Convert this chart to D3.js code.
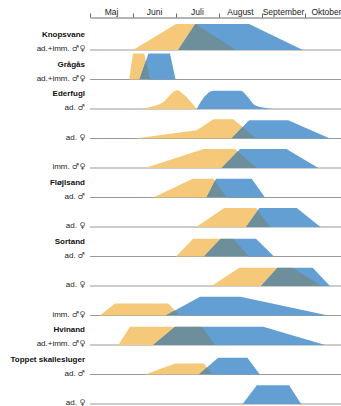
<!DOCTYPE html>
<html>
  <head>
    <meta charset="utf-8">
    <style type="text/css">
      body { margin:0; background:#fff; }
      * { font-family:"Liberation Sans",Arial,Helvetica,sans-serif; }
      .month { font-size:8.5px; fill:#222; text-anchor:middle; }
      .species { font-size:8px; font-weight:bold; fill:#111; text-anchor:end; }
      .group { font-size:8px; fill:#222; text-anchor:end; }
      .sym { font-family:"DejaVu Sans",sans-serif; font-size:8px; fill:#444; }
      .axis path, .axis line { stroke:#444; stroke-width:0.8px; }
      .base { stroke:#999; stroke-width:1px; }
    </style>
  </head>
  <body>
    <div id="canvas"></div>
    <script src="https://cdn.jsdelivr.net/npm/d3@7"></script>
    <script type="text/javascript">

    var width = 341, height = 406;

    // months, x = months after 1 May
    var months = ["Maj", "Juni", "Juli", "August", "September", "Oktober"];

    var speciesNames = ["Knopsvane", "Grågås", "Ederfugl", "", "", "Fløjlsand", "",
                        "Sortand", "", "", "Hvinand", "Toppet skallesluger", ""];
    var groupNames = ["ad.+imm. ♂♀", "ad.+imm. ♂♀", "ad. ♂", "ad. ♀", "imm. ♂♀",
                      "ad. ♂", "ad. ♀", "ad. ♂", "ad. ♀", "imm. ♂♀",
                      "ad.+imm. ♂♀", "ad. ♂", "ad. ♀"];

    // [month, value] pairs (value 0-100)
    var earlySeries = [
      [[1.0, 0], [2.0, 100], [2.45, 100], [3.4, 0]],
      [[0.91, 0], [1.0, 100], [1.26, 100], [1.4, 0]],
      [[1.08, 0], [1.45, 10], [1.7, 26], [1.9, 60], [2.02, 72], [2.15, 60], [2.48, 0]],
      [[1.05, 0], [2.48, 32], [2.87, 74], [3.33, 74], [3.87, 0]],
      [[1.28, 0], [2.64, 73], [3.37, 73], [3.88, 0]],
      [[1.47, 0], [2.39, 72], [2.87, 72], [3.18, 0]],
      [[2.47, 0], [3.12, 73], [3.86, 73], [4.19, 0]],
      [[2.0, 0], [2.4, 68], [3.33, 68], [3.7, 0]],
      [[2.83, 0], [3.47, 70], [4.7, 70], [5.39, 0]],
      [[0.23, 0], [0.58, 46], [1.82, 46], [2.09, 0]],
      [[0.66, 0], [0.93, 70], [2.6, 70], [2.91, 0]],
      [[1.28, 0], [1.98, 42], [2.65, 42], [2.85, 0]],
      []
    ];

    var lateSeries = [
      [[2.05, 0], [2.45, 100], [3.7, 100], [4.95, 0]],
      [[1.15, 0], [1.36, 100], [1.86, 100], [1.99, 0]],
      [[2.48, 0], [2.65, 45], [2.87, 70], [3.5, 70], [3.65, 50], [3.85, 13], [4.26, 0]],
      [[3.29, 0], [3.7, 70], [4.61, 70], [5.58, 0]],
      [[3.06, 0], [3.49, 73], [4.57, 73], [5.31, 0]],
      [[2.71, 0], [2.93, 72], [3.76, 72], [4.07, 0]],
      [[3.63, 0], [3.94, 73], [4.81, 73], [5.36, 0]],
      [[2.65, 0], [3.04, 68], [3.86, 68], [4.28, 0]],
      [[3.98, 0], [4.36, 70], [5.18, 70], [5.58, 0]],
      [[1.76, 0], [2.56, 72], [3.5, 72], [5.54, 0]],
      [[1.47, 0], [1.98, 70], [4.03, 70], [5.47, 0]],
      [[2.53, 0], [2.98, 64], [3.66, 64], [3.95, 0]],
      [[3.55, 0], [3.88, 72], [4.63, 72], [4.91, 0]]
    ];

    var smoothRows = [2];

    var colEarly = "#f6c97a", colLate = "#639fd2", colBoth = "#6d8f9c";

      (function() {
       var x = d3.scaleLinear().domain([0, 6]).range([90, 348]);
       var y = d3.scaleLinear().domain([0, 100]).range([0, -26]);
       var rowY = function (i) { return 50 + i * 29.5; };

       var svg = d3.select('#canvas').append('svg')
                  .attr('width', width)
                  .attr('height', height);

       // top month axis
       svg.append('g')
          .attr('class', 'axis')
          .attr('transform', 'translate(0,17.5)')
          .call(d3.axisTop(x).tickValues(d3.range(7)).tickSize(4).tickSizeOuter(0).tickFormat(''));

       svg.selectAll('text.month')
          .data(months)
        .enter().append('text')
          .attr('class', 'month')
          .attr('x', function (d, i) { return x(i + 0.5); })
          .attr('y', 14.5)
          .text(function (d) { return d; });

       var defs = svg.append('defs');

       groupNames.forEach(function (g, i) {
         var row = svg.append('g').attr('transform', 'translate(0,' + rowY(i) + ')');
         var area = d3.area()
              .x(function (d) { return x(d[0]); })
              .y0(0)
              .y1(function (d) { return y(d[1]); })
              .curve(smoothRows.indexOf(i) >= 0 ? d3.curveMonotoneX : d3.curveLinear);

         row.append('line')
            .attr('class', 'base')
            .attr('x1', x(0)).attr('x2', width)
            .attr('y1', 0).attr('y2', 0);

         if (earlySeries[i].length) {
           row.append('path').attr('d', area(earlySeries[i])).attr('fill', colEarly);
         }
         if (lateSeries[i].length) {
           row.append('path').attr('d', area(lateSeries[i])).attr('fill', colLate);
         }
         if (earlySeries[i].length && lateSeries[i].length) {
           defs.append('clipPath').attr('id', 'clip' + i)
             .append('path').attr('d', area(lateSeries[i]));
           row.append('path')
              .attr('d', area(earlySeries[i]))
              .attr('fill', colBoth)
              .attr('clip-path', 'url(#clip' + i + ')');
         }

         // group label: words in Liberation, sex symbols in DejaVu
         var parts = g.split(' ');
         var sym = parts.pop();
         var t = row.append('text')
            .attr('class', 'group')
            .attr('x', 85)
            .attr('y', 1);
         t.append('tspan').text(parts.join(' ') + ' ');
         t.append('tspan').attr('class', 'sym').text(sym);

         if (speciesNames[i]) {
           row.append('text')
              .attr('class', 'species')
              .attr('x', 85)
              .attr('y', -13)
              .text(speciesNames[i]);
         }
       });
      })();
    </script>
  </body>
</html>
